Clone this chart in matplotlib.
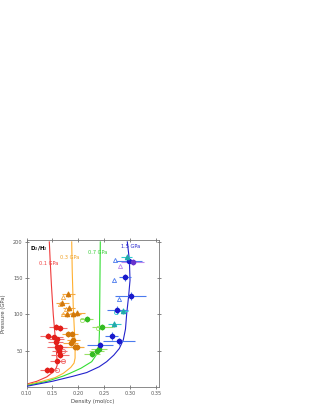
import matplotlib
matplotlib.use("Agg")
import matplotlib.pyplot as plt
import numpy as np

# ---------------- data ----------------
# model curves (density mol/cc, pressure GPa)
red_curve_x = [0.100, 0.120, 0.139, 0.150, 0.157, 0.159, 0.1585, 0.157, 0.1545, 0.1515, 0.148, 0.1455, 0.1439]
red_curve_y = [4, 8, 14, 20, 26, 30, 40, 55, 75, 100, 140, 175, 200]
orange_curve_x = [0.100, 0.130, 0.155, 0.171, 0.185, 0.1915, 0.1935, 0.1935, 0.192, 0.190, 0.188, 0.187]
orange_curve_y = [3, 8, 13, 19, 27, 33, 40, 55, 80, 110, 160, 200]
green_curve_x = [0.100, 0.140, 0.170, 0.1837, 0.205, 0.2255, 0.235, 0.2395, 0.2405, 0.241, 0.2415, 0.242]
green_curve_y = [2, 8, 15, 19, 26, 35, 45, 58, 80, 120, 160, 200]
blue_curve_x = [0.100, 0.150, 0.190, 0.2159, 0.240, 0.2543, 0.268, 0.2785, 0.2863, 0.2905, 0.2928, 0.2965, 0.2992, 0.2980, 0.2940]
blue_curve_y = [1, 8, 15, 20, 28, 35, 44, 53, 65, 80, 101, 125, 147, 175, 200]

# data points: red (0.1 GPa)
red_x = [0.1414, 0.1529, 0.1581, 0.1562, 0.1581, 0.1650, 0.1632, 0.1645, 0.1593, 0.1388, 0.1465, 0.1562, 0.1651]
red_y = [70.2, 68.4, 65.6, 62.2, 55.5, 55.5, 50.0, 43.6, 35.8, 23.4, 23.4, 82.6, 81.2]
red_xerr = [0.015, 0.018, 0.015, 0.015, 0.018, 0.015, 0.015, 0.018, 0.015, 0.012, 0.012, 0.012, 0.012]
red_open_x = [0.1709, 0.1709, 0.158]
red_open_y = [50.0, 36.2, 23.0]

# orange (0.3 GPa)
orange_tri_x = [0.1805, 0.1689, 0.1817, 0.1900, 0.1978, 0.1786]
orange_tri_y = [127.7, 116.1, 109.2, 100.1, 101.7, 100.1]
orange_circ_x = [0.1869, 0.1805, 0.1900, 0.1849, 0.1933, 0.1978]
orange_circ_y = [73.0, 73.0, 64.7, 60.2, 55.5, 55.5]
orange_xerr = [0.012, 0.012, 0.012, 0.015, 0.015, 0.012]
orange_open_x = [0.1712, 0.1650, 0.1760, 0.1712]
orange_open_y = [124.0, 114.0, 107.0, 100.0]

# green (0.7 GPa)
green_x = [0.2158, 0.2459, 0.2351, 0.2255, 0.2400]
green_y = [94.1, 82.2, 49.6, 45.0, 52.0]
green_xerr = [0.012, 0.020, 0.015, 0.015, 0.015]
green_open_x = [0.2061, 0.2380]
green_open_y = [93.0, 82.0]

# blue (1.5 GPa)
blue_x = [0.2973, 0.2896, 0.3005, 0.2748, 0.2640, 0.2780, 0.2415]
blue_y = [174.0, 151.0, 125.3, 106.0, 70.2, 62.9, 57.4]
blue_xerr = [0.025, 0.012, 0.030, 0.020, 0.012, 0.030, 0.025]
blue_open_x = [0.2703, 0.2690, 0.2786]
blue_open_y = [175.0, 147.4, 121.6]
cyan_x = [0.2928, 0.2851, 0.2690]
cyan_y = [179.5, 105.0, 86.4]
cyan_xerr = [0.011, 0.010, 0.012]
cyan_open_x = [0.2728]
cyan_open_y = [104.0]
purple_x = [0.3044]
purple_y = [172.6]
purple_xerr = [0.022]
purple_open_x = [0.2800]
purple_open_y = [166.7]

# labels
curve_labels = ["0.1 GPa", "0.3 GPa", "0.7 GPa", "1.5 GPa"]
label_x = [0.142, 0.1837, 0.2363, 0.3011]
label_y = [170, 178, 186, 194]

# ---------------- figure ----------------
fig = plt.figure(figsize=(3.14, 4.07), dpi=100)
ax = fig.add_axes([0.0844, 0.049, 0.422, 0.362])

c_red, c_red_l = "#e3201b", "#f07070"
c_or, c_or_l = "#d2780a", "#f5a840"
c_gr, c_gr_l = "#33bb22", "#99e066"
c_bl, c_bl_l = "#1a1acc", "#4a7aee"
c_cy = "#33cccc"
c_pu, c_pu_l = "#6633cc", "#bb88ee"

ax.plot(red_curve_x, red_curve_y, color="#f03a3a", lw=0.8, zorder=2)
ax.plot(orange_curve_x, orange_curve_y, color="#ffb030", lw=0.8, zorder=2)
ax.plot(green_curve_x, green_curve_y, color="#33dd33", lw=0.8, zorder=2)
ax.plot(blue_curve_x, blue_curve_y, color="#2222cc", lw=0.8, zorder=3)

ms = 3.0
ekw = dict(elinewidth=0.8, capsize=0, linestyle="none", zorder=4)

ax.errorbar(red_x, red_y, xerr=red_xerr, yerr=4, fmt="o", ms=ms, color=c_red, ecolor=c_red_l, **ekw)
ax.plot(red_open_x, red_open_y, "o", ms=ms, mfc="none", mec=c_red_l, mew=0.6, zorder=4)

ax.errorbar(orange_tri_x, orange_tri_y, xerr=orange_xerr, yerr=4, fmt="^", ms=ms, color=c_or, ecolor=c_or_l, **ekw)
ax.errorbar(orange_circ_x, orange_circ_y, xerr=orange_xerr, yerr=4, fmt="o", ms=ms, color=c_or, ecolor=c_or_l, **ekw)
ax.plot(orange_open_x, orange_open_y, "^", ms=ms, mfc="none", mec=c_or_l, mew=0.6, zorder=4)

ax.errorbar(green_x, green_y, xerr=green_xerr, yerr=4, fmt="o", ms=ms, color=c_gr, ecolor=c_gr_l, **ekw)
ax.plot(green_open_x, green_open_y, "o", ms=ms, mfc="none", mec=c_gr_l, mew=0.6, zorder=4)

ax.errorbar(blue_x, blue_y, xerr=blue_xerr, yerr=5, fmt="o", ms=ms, color=c_bl, ecolor=c_bl_l, **ekw)
ax.plot(blue_open_x, blue_open_y, "^", ms=ms, mfc="none", mec=c_bl_l, mew=0.6, zorder=4)
ax.errorbar(cyan_x, cyan_y, xerr=cyan_xerr, yerr=4, fmt="^", ms=ms, color="#22aaaa", ecolor=c_cy, **ekw)
ax.plot(cyan_open_x, cyan_open_y, "o", ms=ms, mfc="none", mec=c_cy, mew=0.6, zorder=4)
ax.errorbar(purple_x, purple_y, xerr=purple_xerr, yerr=4, fmt="o", ms=ms, color=c_pu, ecolor=c_pu_l, **ekw)
ax.plot(purple_open_x, purple_open_y, "^", ms=ms, mfc="none", mec=c_pu_l, mew=0.6, zorder=4)

for lab, lx, ly, c in zip(curve_labels, label_x, label_y, ["#f03a3a", "#f0a020", "#33cc33", "#2222cc"]):
    ax.text(lx, ly, lab, color=c, fontsize=3.6, ha="center", va="center")
ax.text(0.106, 191, r"D$_2$/H$_2$", fontsize=4, ha="left", va="center", fontweight="bold")

ax.set_xlim(0.10, 0.355)
ax.set_ylim(0, 203)
ax.set_xticks([0.10, 0.15, 0.20, 0.25, 0.30, 0.35])
ax.set_xticklabels(["0.10", "0.15", "0.20", "0.25", "0.30", "0.35"])
ax.set_yticks([50, 100, 150, 200])
ax.tick_params(labelsize=3.6, length=2.5, width=0.5, direction="inout", top=True, right=True, pad=1.5, colors="#555555")
for s in ax.spines.values():
    s.set_linewidth(0.6)
    s.set_color("#777777")
ax.set_xlabel("Density (mol/cc)", fontsize=3.8, labelpad=2, color="#444444")
ax.set_ylabel("Pressure (GPa)", fontsize=3.8, labelpad=5, color="#444444")

fig.savefig("out.png", dpi=100)
